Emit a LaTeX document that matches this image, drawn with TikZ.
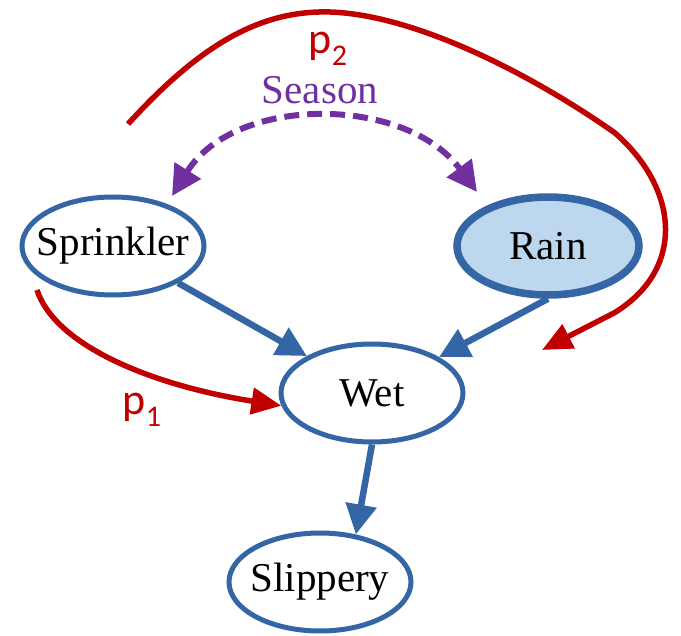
\documentclass[tikz,border=0pt]{standalone}
\usepackage{fontspec}
\setmainfont{Liberation Serif}
\newfontfamily\tnr{Liberation Serif}
\newfontfamily\calib{Carlito}
\usetikzlibrary{arrows.meta,shapes.geometric}
\definecolor{nodeblue}{RGB}{52,101,164}
\definecolor{rainfill}{RGB}{189,215,238}
\definecolor{pred}{RGB}{192,0,0}
\definecolor{ppurple}{RGB}{112,48,160}
\newcommand{\plabel}[1]{{\calib\fontsize{44}{48}\selectfont p\raisebox{-12pt}{\fontsize{30}{32}\selectfont #1}}}
\newcommand{\ctext}[1]{\makebox[0pt]{#1}}
\begin{document}
\begin{tikzpicture}[x=1pt,y=-1pt,
  var/.style={ellipse, draw=nodeblue, line width=5pt, minimum width=182pt, minimum height=98pt, inner sep=0pt, font=\tnr\fontsize{41}{46}\selectfont},
  causal/.style={draw=nodeblue, line width=6.5pt, -{Triangle[length=30pt,width=30pt]}},
  path/.style={draw=pred, line width=5.5pt, -{Triangle[length=30pt,width=26pt]}},
  conf/.style={draw=ppurple, line width=6pt, dash pattern=on 15pt off 8pt, {Triangle[length=30pt,width=30pt]}-{Triangle[length=30pt,width=30pt]}},
  plab/.style={text=pred, inner sep=0pt}]
\useasboundingbox (0,0) rectangle (681,636);

\node[var] (spr) at (113,246) {\ctext{Sprinkler}};
\node[var, fill=rainfill, line width=7.5pt] (rain) at (548,246) {\ctext{Rain}};
\node[var] (wet) at (372,393) {\ctext{Wet}};
\node[var] (slip) at (320,582) {\ctext{Slippery}};

\draw[causal] (spr) -- (wet);
\draw[causal] (rain.south) -- (wet);
\draw[causal] (wet.south) -- (slip.53);

\coordinate (sL) at (172,196);
\coordinate (sR) at (477,192);
\draw[conf] (sL) .. controls (235,95) and (405,95) .. (sR);
\node[text=ppurple, inner sep=0pt, font=\tnr\fontsize{41}{46}\selectfont] (season) at (320,90) {Season};

\coordinate (p1s) at (37,290);
\draw[path] (p1s) .. controls (55,345) and (150,385) .. (wet.188);
\node[plab] (p1) at (142,410) {\plabel{1}};

\coordinate (p2s) at (128,124);
\coordinate (p2e) at (542,350);
\draw[path] (p2s) .. controls (200,45) and (260,10) .. (330,12)
  .. controls (420,15) and (540,80) .. (615,133)
  .. controls (680,190) and (685,270) .. (614,313) -- (p2e);
\node[plab] (p2) at (328,49) {\plabel{2}};
\end{tikzpicture}
\end{document}
